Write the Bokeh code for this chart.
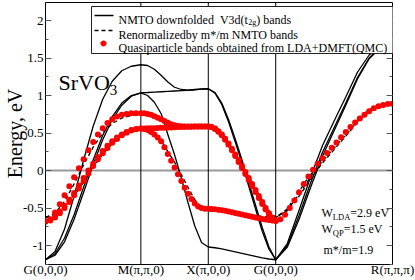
import numpy as np
from bokeh.plotting import figure
from bokeh.models import (Range1d, FixedTicker, LinearAxis, Span, Label,
                          Arrow, PolyAnnotation)
from bokeh.embed import file_html
from bokeh.resources import INLINE

# ---------------- data ----------------
K_POINTS = [0.0, 1.4142, 2.4142, 3.4142, 5.1463]
K_LABELS = ["G(0,0,0)", "M(\u03c0,\u03c0,0)", "X(\u03c0,0,0)", "G(0,0,0)", "R(\u03c0,\u03c0,\u03c0)"]
Y_TICKS = [-1, -0.5, 0, 0.5, 1, 1.5, 2]
Y_TICK_LABELS = ["-1", "-0.5", "0", "0.5", "1", "1.5", "2"]
Y_MINOR = [-1.25, -1.0, -0.75, -0.5, -0.25, 0.0, 0.25, 0.5, 0.75, 1.0, 1.25, 1.5, 1.75, 2.0]

# NMTO downfolded V3d(t2g) bands, 10 steps per segment G-M-X-G-R
LDA_1 = [-1.19, -1.08, -0.78, -0.34, 0.14, 0.59, 0.95, 1.19, 1.33, 1.39, 1.41,
         1.40, 1.35, 1.27, 1.18, 1.11, 1.08, 1.07, 1.075, 1.085, 1.09,
         1.04, 0.90, 0.68, 0.42, 0.14, -0.16, -0.46, -0.76, -1.02, -1.19,
         -0.97, -0.53, -0.08, 0.33, 0.66, 0.98, 1.31, 1.54, 1.66, 1.69]
LDA_2 = [-1.19, -1.11, -0.90, -0.59, -0.22, 0.14, 0.47, 0.72, 0.90, 1.00, 1.036,
         1.04, 1.045, 1.05, 1.055, 1.06, 1.065, 1.07, 1.08, 1.087, 1.09,
         1.03, 0.88, 0.65, 0.38, 0.10, -0.21, -0.51, -0.81, -1.05, -1.19,
         -1.00, -0.60, -0.16, 0.24, 0.57, 0.90, 1.24, 1.50, 1.65, 1.69]
LDA_3 = [-1.19, -1.13, -0.95, -0.65, -0.29, 0.08, 0.41, 0.68, 0.87, 0.99, 1.036,
         1.00, 0.91, 0.76, 0.48, 0.21, -0.10, -0.43, -0.74, -0.96, -1.02,
         -1.03, -1.045, -1.065, -1.085, -1.105, -1.125, -1.145, -1.165, -1.18, -1.19,
         -1.02, -0.65, -0.22, 0.19, 0.53, 0.87, 1.22, 1.49, 1.64, 1.69]

# Renormalized by m*/m NMTO bands
REN_1 = [-0.626, -0.568, -0.411, -0.179, 0.074, 0.311, 0.5, 0.626, 0.7, 0.732, 0.742,
         0.737, 0.711, 0.668, 0.621, 0.584, 0.568, 0.563, 0.566, 0.571, 0.574,
         0.547, 0.474, 0.358, 0.221, 0.074, -0.084, -0.242, -0.4, -0.537, -0.626,
         -0.511, -0.279, -0.042, 0.174, 0.347, 0.516, 0.689, 0.811, 0.874, 0.889]
REN_2 = [-0.626, -0.584, -0.474, -0.311, -0.116, 0.074, 0.247, 0.379, 0.474, 0.526, 0.545,
         0.547, 0.55, 0.553, 0.555, 0.558, 0.561, 0.563, 0.568, 0.572, 0.574,
         0.542, 0.463, 0.342, 0.2, 0.053, -0.111, -0.268, -0.426, -0.553, -0.626,
         -0.526, -0.316, -0.084, 0.126, 0.3, 0.474, 0.653, 0.789, 0.868, 0.889]
REN_3 = [-0.626, -0.595, -0.5, -0.342, -0.153, 0.042, 0.216, 0.358, 0.458, 0.521, 0.545,
         0.526, 0.479, 0.4, 0.253, 0.111, -0.053, -0.226, -0.389, -0.505, -0.537,
         -0.542, -0.55, -0.561, -0.571, -0.582, -0.592, -0.603, -0.613, -0.621, -0.626,
         -0.537, -0.342, -0.116, 0.1, 0.279, 0.458, 0.642, 0.784, 0.863, 0.889]

# Quasiparticle bands LDA+DMFT(QMC): 20 steps per segment G-M-X-G
QMC_1 = [-0.68, -0.65, -0.56, -0.45, -0.33, -0.21, -0.09, 0.03, 0.15, 0.27, 0.38,
         0.48, 0.565, 0.635, 0.685, 0.72, 0.742, 0.755, 0.762, 0.765, 0.765,
         0.762, 0.755, 0.742, 0.725, 0.705, 0.683, 0.66, 0.638, 0.618, 0.603,
         0.594, 0.589, 0.587, 0.586, 0.586, 0.586, 0.587, 0.588, 0.588, 0.588,
         0.58, 0.56, 0.525, 0.48, 0.425, 0.36, 0.29, 0.215, 0.14, 0.06,
         -0.02, -0.10, -0.18, -0.26, -0.34, -0.42, -0.5, -0.57, -0.63, -0.67]
QMC_2 = [-0.68, -0.66, -0.61, -0.545, -0.47, -0.39, -0.3, -0.2, -0.1, 0.0, 0.09,
         0.18, 0.26, 0.33, 0.39, 0.44, 0.48, 0.515, 0.54, 0.555, 0.56,
         0.561, 0.562, 0.563, 0.565, 0.567, 0.569, 0.571, 0.573, 0.575, 0.577,
         0.579, 0.581, 0.582, 0.584, 0.585, 0.586, 0.587, 0.588, 0.588, 0.588,
         0.578, 0.555, 0.518, 0.47, 0.41, 0.345, 0.27, 0.195, 0.115, 0.035,
         -0.045, -0.125, -0.205, -0.285, -0.365, -0.445, -0.52, -0.585, -0.64, -0.67]
QMC_3 = [-0.68, -0.665, -0.625, -0.57, -0.5, -0.42, -0.33, -0.24, -0.14, -0.04, 0.06,
         0.15, 0.23, 0.3, 0.37, 0.42, 0.47, 0.505, 0.535, 0.55, 0.56,
         0.555, 0.54, 0.515, 0.48, 0.44, 0.39, 0.31, 0.22, 0.13, 0.04,
         -0.05, -0.14, -0.23, -0.31, -0.38, -0.44, -0.48, -0.50, -0.51, -0.51,
         -0.512, -0.516, -0.522, -0.53, -0.538, -0.547, -0.556, -0.566, -0.576, -0.586,
         -0.596, -0.606, -0.616, -0.626, -0.636, -0.645, -0.653, -0.66, -0.666, -0.67]
# G-R segment (three bands coincide), 25 steps after G
QMC_GR = [-0.65, -0.59, -0.50, -0.40, -0.29, -0.18, -0.08, 0.01, 0.09, 0.165,
          0.235, 0.305, 0.375, 0.445, 0.515, 0.58, 0.64, 0.695, 0.745, 0.79,
          0.83, 0.857, 0.875, 0.886, 0.89]

# ---------------- k grids ----------------
def kgrid(n_steps, segs):
    out = []
    for i in segs:
        pts = np.linspace(K_POINTS[i], K_POINTS[i + 1], n_steps + 1)
        out.extend(pts if not out else pts[1:])
    return np.array(out)

k_line = kgrid(10, [0, 1, 2, 3])
k_dot = kgrid(20, [0, 1, 2])
k_gr = np.linspace(K_POINTS[3], K_POINTS[4], 26)[1:]

# ---------------- figure ----------------
W, H = 415, 280
p = figure(width=W, height=H, output_backend="svg", toolbar_location=None,
           x_range=Range1d(K_POINTS[0], K_POINTS[-1]),
           y_range=Range1d(-1.2533, 2.24),
           min_border_left=39, min_border_right=23, min_border_top=2,
           min_border_bottom=16)
p.xgrid.visible = False
p.ygrid.visible = False
p.outline_line_color = "black"
p.outline_line_width = 1
p.background_fill_color = "white"
p.border_fill_color = "white"

SERIF = "Liberation Serif"
yax = p.yaxis[0]
yax.ticker = FixedTicker(ticks=Y_TICKS, minor_ticks=Y_MINOR)
yax.major_label_overrides = dict(zip(Y_TICKS, Y_TICK_LABELS))
yax.axis_line_color = None
yax.major_tick_in = 6
yax.major_tick_out = 0
yax.minor_tick_in = 3
yax.minor_tick_out = 0
yax.major_tick_line_color = "#555555"
yax.minor_tick_line_color = "#555555"
yax.major_label_standoff = 2
yax.major_label_text_font = SERIF
yax.major_label_text_font_size = "13px"
yax.major_label_text_color = "black"
yax.axis_label = "Energy, eV"
yax.axis_label_text_font = SERIF
yax.axis_label_text_font_size = "20px"
yax.axis_label_text_font_style = "normal"
yax.axis_label_text_color = "black"
yax.axis_label_standoff = -6

rax = LinearAxis(ticker=FixedTicker(ticks=Y_TICKS, minor_ticks=Y_MINOR),
                 major_label_overrides={t: "" for t in Y_TICKS})
rax.axis_line_color = None
rax.major_tick_in = 6
rax.major_tick_out = 0
rax.minor_tick_in = 3
rax.minor_tick_out = 0
rax.major_tick_line_color = "#555555"
rax.minor_tick_line_color = "#555555"
rax.major_label_standoff = 0
rax.axis_label_standoff = 0
p.add_layout(rax, "right")

xax = p.xaxis[0]
xax.ticker = FixedTicker(ticks=K_POINTS)
xax.major_label_overrides = dict(zip(K_POINTS, K_LABELS))
xax.axis_line_color = None
xax.major_tick_in = 0
xax.major_tick_out = 0
xax.minor_tick_line_color = None
xax.major_label_standoff = -3
xax.axis_label_standoff = 0
xax.major_label_text_font = SERIF
xax.major_label_text_font_size = "13px"
xax.major_label_text_color = "black"

# reference lines
p.add_layout(Span(location=0, dimension="width", line_color="#999999",
                  line_width=2, level="underlay"))
for kp in K_POINTS[1:4]:
    p.add_layout(Span(location=kp, dimension="height", line_color="black",
                      line_width=1, level="underlay"))

# bands
for band in (LDA_1, LDA_2, LDA_3):
    p.line(k_line, band, line_color="black", line_width=1.3)
for band in (REN_1, REN_2, REN_3):
    p.line(k_line, band, line_color="black", line_width=1.3, line_dash="4 3")
for band in (QMC_1, QMC_2, QMC_3):
    p.scatter(k_dot, band, size=6, fill_color="#ff0000", line_color=None)
p.scatter(k_gr, QMC_GR, size=6, fill_color="#ff0000", line_color=None)

# ---------------- text helpers ----------------
TW = {'N': 722, 'M': 889, 'T': 611, 'O': 722, ' ': 250, '\u00a0': 250, 'd': 500, 'o': 500,
      'w': 722, 'n': 500, 'f': 333, 'l': 278, 'e': 444, 'V': 722, '3': 500, '(': 333,
      't': 278, ')': 333, 'b': 500, 'a': 444, 's': 389, 'g': 500, '2': 500, 'W': 944,
      'L': 611, 'D': 722, 'A': 722, 'Q': 722, 'P': 556, 'S': 556, 'r': 333, '=': 564,
      '.': 250, '9': 500, '1': 500, '5': 500, 'm': 778, '*': 500, '/': 278}


def tw(s, size):
    return sum(TW.get(c, 500) for c in s) * size / 1000.0


def lab(x, y, text, size):
    p.add_layout(Label(x=x, y=y, x_units="screen", y_units="screen", text=text,
                       text_font=SERIF, text_font_size=f"{size}px",
                       text_color="black", text_align="left",
                       text_baseline="alphabetic"))


def sub_text(x, y, parts, size, sub_size, drop):
    cx = x
    for txt, is_sub in parts:
        if is_sub:
            lab(cx, y - drop, txt, sub_size)
            cx += tw(txt, sub_size)
        else:
            lab(cx, y, txt, size)
            cx += tw(txt, size)


def seg(x0, y0, x1, y1, **kw):
    p.add_layout(Arrow(x_start=x0, y_start=y0, x_end=x1, y_end=y1,
                       start_units="screen", end_units="screen", end=None, **kw))

# frame-relative screen coordinates (x from frame left, y up from frame bottom)
# legend box
BX0, BX1, BY0, BY1 = 46, 350, 211, 258
p.add_layout(PolyAnnotation(xs=[BX0, BX1, BX1, BX0], ys=[BY0, BY0, BY1, BY1],
                            xs_units="screen", ys_units="screen",
                            fill_color="white", fill_alpha=1.0, line_color=None))
for (a, b, c, d) in [(BX0, BY0, BX1, BY0), (BX0, BY1, BX1, BY1),
                     (BX0, BY0, BX0, BY1), (BX1, BY0, BX1, BY1)]:
    seg(a, b, c, d, line_color="#222222", line_width=1)

rows = [249, 234, 221]
seg(49, rows[0], 68, rows[0], line_color="black", line_width=1.3)
seg(49, rows[1], 68, rows[1], line_color="black", line_width=1.3, line_dash="4 3")
th = np.linspace(0, 2 * np.pi, 16, endpoint=False)
p.add_layout(PolyAnnotation(xs=list(58 + 3 * np.cos(th)), ys=list(rows[2] + 3 * np.sin(th)),
                            xs_units="screen", ys_units="screen",
                            fill_color="#ff0000", fill_alpha=1.0, line_color=None))
LEG = 12
sub_text(73, rows[0] - 4,
         [("NMTO downfolded \u00a0V3d(t", False), ("2g", True), (") bands", False)],
         LEG, 8, 3)
lab(73, rows[1] - 4, "Renormalizedby m*/m NMTO bands", LEG)
lab(73, rows[2] - 4, "Quasiparticle bands obtained from LDA+DMFT(QMC)", LEG)

# compound label
sub_text(13, 182, [("SrVO", False), ("3", True)], 22, 15, 7)

# widths / mass ratio
sub_text(276, 52, [("W", False), ("LDA", True), ("=2.9 eV", False)], 12, 8.5, 4)
sub_text(276, 36, [("W", False), ("QP", True), (" =1.5 eV", False)], 12, 8.5, 4)
lab(278, 15, "m*/m=1.9", 12)

open("out.html", "w").write(file_html(p, INLINE))
